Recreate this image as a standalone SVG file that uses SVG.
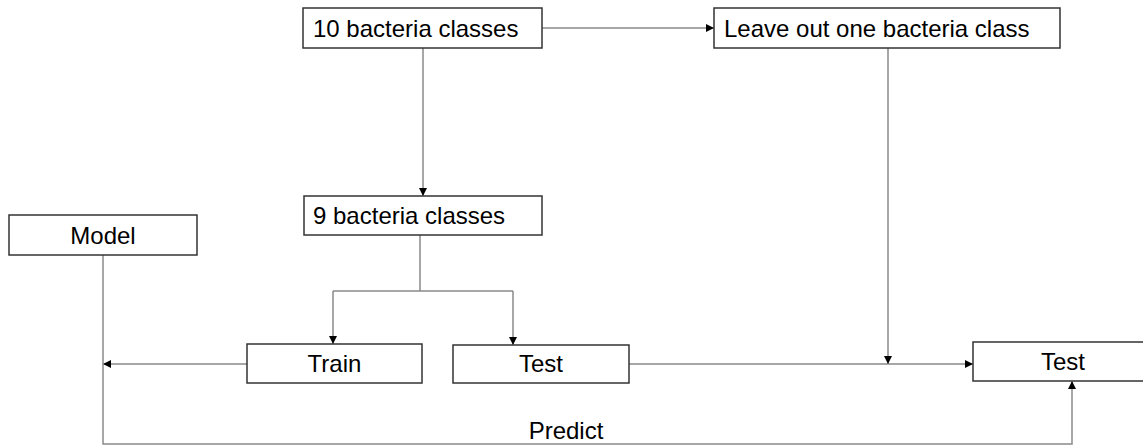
<svg xmlns="http://www.w3.org/2000/svg" width="1143" height="447" viewBox="0 0 1143 447">
<style>
.box{fill:#fff;stroke:#333;stroke-width:1.5}
.t{font-family:"Liberation Sans",Arial,sans-serif;font-size:24px;fill:#000}
.c{text-anchor:middle}
.ln{fill:none;stroke:#8a8a8a;stroke-width:1.5}
.arr{marker-end:url(#ah)}
</style>
<defs>
<marker id="ah" viewBox="0 0 10 10" refX="10" refY="5" markerWidth="8" markerHeight="8" markerUnits="userSpaceOnUse" orient="auto">
<path d="M0,0 L10,5 L0,10 z" fill="#000"/>
</marker>
</defs>
<rect width="1143" height="447" fill="#fff"/>
<g id="connectors">
<path class="ln arr" d="M542,28 H714"/>
<path class="ln arr" d="M423,48 V196"/>
<path class="ln" d="M420,235 V291 M333,291 H513"/>
<path class="ln arr" d="M333,291 V344"/>
<path class="ln arr" d="M513,291 V345"/>
<path class="ln arr" d="M247,364 H103"/>
<path class="ln arr" d="M103,255 V444 H1072 V381"/>
<path class="ln arr" d="M629,364 H973"/>
<path class="ln arr" d="M888,48 V364"/>
<text class="t c" x="566" y="439">Predict</text>
</g>
<g id="n10">
<rect class="box" x="303" y="8" width="239" height="40"/>
<text class="t" x="313" y="37">10 bacteria classes</text>
</g>
<g id="leave">
<rect class="box" x="714" y="8" width="346" height="40"/>
<text class="t" x="724" y="37">Leave out one bacteria class</text>
</g>
<g id="n9">
<rect class="box" x="304" y="196" width="238" height="39"/>
<text class="t" x="313" y="224">9 bacteria classes</text>
</g>
<g id="model">
<rect class="box" x="9" y="215" width="188" height="40"/>
<text class="t c" x="103" y="244">Model</text>
</g>
<g id="train">
<rect class="box" x="247" y="344" width="175" height="39"/>
<text class="t c" x="334.5" y="372">Train</text>
</g>
<g id="test1">
<rect class="box" x="453" y="345" width="176" height="38"/>
<text class="t c" x="541" y="372">Test</text>
</g>
<g id="test2">
<rect class="box" x="973" y="342" width="180" height="39"/>
<text class="t c" x="1063" y="370">Test</text>
</g>
</svg>
